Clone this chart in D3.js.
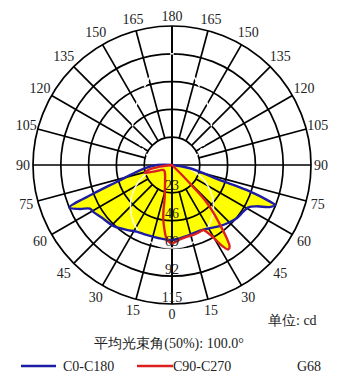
<!DOCTYPE html>
<html><head><meta charset="utf-8">
<script src="https://cdn.jsdelivr.net/npm/d3@7"></script>
<style>html,body{margin:0;padding:0;background:#fff}svg{display:block}text{font-family:"Liberation Serif","DejaVu Serif",serif}</style>
</head><body>
<script>
// ---- data ----
const ringValues = [23, 46, 69, 92, 115];
const angleTicks = [0, 15, 30, 45, 60, 75, 90, 105, 120, 135, 150, 165, 180];

// C0-C180 (blue): C0 drawn on right, C180 on left. angle from nadir (deg), intensity (cd)
const c0Angles   = [0, 6, 12, 23, 31, 38, 44, 50.5, 57, 61, 64, 66.7, 68.8, 69.5, 71.5, 72.6, 79.6, 90];
const c0Values   = [62, 61, 60, 59, 61, 64.2, 66.7, 69.3, 70.5, 72.2, 78, 88, 91.4, 86.6, 65, 41.6, 15, 0];
const c180Angles = [0, 10, 20, 28, 35, 44, 53, 59, 62, 64.5, 67.5, 70, 73, 80.6, 86, 90];
const c180Values = [62, 61.5, 61.6, 62.4, 65.5, 70, 72.5, 75.7, 77, 84.5, 92, 69, 48, 27, 18, 12];

// C90-C270 (red): C90 on right, C270 on left
const c90Angles  = [0, 6, 12, 17, 22, 26, 28, 30, 31, 32, 33.7, 35.3, 36.7, 38.7, 41, 43, 44, 45, 90];
const c90Values  = [65, 62, 60.5, 60.5, 60, 60, 64, 70, 75, 79.5, 84, 82.5, 76, 64, 52, 40, 25, 12, 0];
const c270Angles = [0, 2.2, 4.8, 6.6, 9, 10.7, 12.1, 19.3, 35, 50, 60, 70.3, 74, 78, 82, 90];
const c270Values = [65, 63.7, 59.8, 54, 46, 38, 29.6, 17.5, 10, 8, 8.3, 16.4, 23.2, 20, 10, 0];

// faint white guide curves seen in the picture
const guideLowAngles  = [0, 15, 30, 45, 60, 75, 90];
const guideLowValues  = [68.7, 66.4, 59.5, 48.6, 34.4, 17.8, 0];
const guideHighAngles = [110, 114, 135, 160, 180];
const guideHighValues = [20, 24, 46, 68, 92];

const seriesNames = ["C0-C180", "C90-C270"];
const titleText = "平均光束角(50%): 100.0°";
const unitText = "单位: cd";
const planeText = "G68";

// ---- layout ----
const W = 361, H = 391, cx = 172, cy = 165, R = 139;
const BLUE = "#1c1ca4", RED = "#dc2020", YELLOW = "#ffff00";
const SERIF = "Liberation Serif, DejaVu Serif, serif";
const MIXED = "Liberation Serif, Noto Sans CJK SC, serif";
const r = d3.scaleLinear().domain([0, 115]).range([0, R]);
const toRad = d => d * Math.PI / 180;
// right side: screen angle = 180 - a; left side: 180 + a  (d3 radial: 0 = up, clockwise)
const rightA = a => toRad(180 - a), leftA = a => toRad(180 + a);

const svg = d3.select("body").append("svg").attr("width", W).attr("height", H);
svg.append("rect").attr("width", W).attr("height", H).attr("fill", "#fff");
const g = svg.append("g").attr("transform", `translate(${cx},${cy})`);

function loop(leftAng, leftVal, rightAng, rightVal) {
  const pts = [];
  for (let i = leftAng.length - 1; i >= 0; i--) pts.push([leftA(leftAng[i]), r(leftVal[i])]);
  for (let i = 0; i < rightAng.length; i++) {
    if (i === 0 && rightAng[0] === leftAng[0]) continue;
    pts.push([rightA(rightAng[i]), r(rightVal[i])]);
  }
  return pts;
}
const closedLine = d3.lineRadial().angle(d => d[0]).radius(d => d[1]).curve(d3.curveCatmullRomClosed.alpha(0.5));
const openLine = d3.lineRadial().angle(d => d[0]).radius(d => d[1]).curve(d3.curveCatmullRom.alpha(0.5));

const bluePts = loop(c180Angles, c180Values, c0Angles, c0Values);
const redPts = loop(c270Angles, c270Values, c90Angles, c90Values);

// yellow fills
g.append("path").attr("d", closedLine(bluePts)).attr("fill", YELLOW);
g.append("path").attr("d", closedLine(redPts)).attr("fill", YELLOW);

// grid
const grid = g.append("g").attr("stroke", "#000").attr("stroke-width", 1.7).attr("fill", "none");
ringValues.forEach(v => grid.append("circle").attr("r", r(v)));
angleTicks.forEach(a => {
  [rightA(a), leftA(a)].forEach(t => {
    const full = (a === 0 || a === 90 || a === 180);
    const r0 = full ? 0 : r(ringValues[0]);
    const r1 = r(ringValues[ringValues.length - 1]);
    grid.append("line")
      .attr("x1", r0 * Math.sin(t)).attr("y1", -r0 * Math.cos(t))
      .attr("x2", r1 * Math.sin(t)).attr("y2", -r1 * Math.cos(t));
  });
});

// white guide curves
const lowPts = [];
for (let i = guideLowAngles.length - 1; i >= 0; i--) lowPts.push([leftA(guideLowAngles[i]), r(guideLowValues[i])]);
for (let i = 1; i < guideLowAngles.length; i++) lowPts.push([rightA(guideLowAngles[i]), r(guideLowValues[i])]);
g.append("path").attr("d", openLine(lowPts)).attr("fill", "none").attr("stroke", "#fff").attr("stroke-width", 1.6).attr("opacity", 0.9);
const highPts = [];
for (let i = 0; i < guideHighAngles.length; i++) highPts.push([leftA(guideHighAngles[i]), r(guideHighValues[i])]);
for (let i = guideHighAngles.length - 2; i >= 0; i--) highPts.push([rightA(guideHighAngles[i]), r(guideHighValues[i])]);
g.append("path").attr("d", openLine(highPts)).attr("fill", "none").attr("stroke", "#fff").attr("stroke-width", 1.6).attr("stroke-dasharray", "4 3");

// curves
g.append("path").attr("d", closedLine(bluePts)).attr("fill", "none").attr("stroke", BLUE).attr("stroke-width", 2.4).attr("stroke-linejoin", "round");
g.append("path").attr("d", closedLine(redPts)).attr("fill", "none").attr("stroke", RED).attr("stroke-width", 2.4).attr("stroke-linejoin", "round");

// ring labels
ringValues.forEach(v => {
  g.append("text").attr("x", 0).attr("y", r(v) - 7).attr("text-anchor", "middle")
    .attr("dominant-baseline", "central").attr("font-family", SERIF).attr("font-size", 14).attr("fill", "#222").text(v);
});

// angle labels
angleTicks.forEach(a => {
  const sides = (a === 0 || a === 180) ? [rightA(a)] : [rightA(a), leftA(a)];
  sides.forEach(t => {
    const lr = 149 + 4 * Math.abs(Math.sin(toRad(2 * a)));
    svg.append("text").attr("x", cx + lr * Math.sin(t)).attr("y", cy - lr * Math.cos(t))
      .attr("text-anchor", "middle").attr("dominant-baseline", "central")
      .attr("font-family", SERIF).attr("font-size", 14).attr("fill", "#222").text(a);
  });
});

// unit & title
svg.append("text").attr("x", 268).attr("y", 320).attr("dominant-baseline", "central")
  .attr("font-family", MIXED).attr("font-size", 14).attr("fill", "#222").text(unitText);
svg.append("text").attr("x", 169).attr("y", 343).attr("text-anchor", "middle").attr("dominant-baseline", "central")
  .attr("font-family", MIXED).attr("font-size", 14).attr("fill", "#222").text(titleText);

// legend
const legY = 366;
[[21, 56, BLUE, 63, seriesNames[0]], [137, 173, RED, 173, seriesNames[1]]].forEach(([x1, x2, c, tx, label]) => {
  svg.append("line").attr("x1", x1).attr("x2", x2).attr("y1", legY).attr("y2", legY).attr("stroke", c).attr("stroke-width", 2.6);
  svg.append("text").attr("x", tx).attr("y", legY).attr("dominant-baseline", "central")
    .attr("font-family", SERIF).attr("font-size", 14).attr("fill", "#222").text(label);
});
svg.append("text").attr("x", 297).attr("y", legY).attr("dominant-baseline", "central")
  .attr("font-family", SERIF).attr("font-size", 14).attr("fill", "#222").text(planeText);
</script>
</body></html>
